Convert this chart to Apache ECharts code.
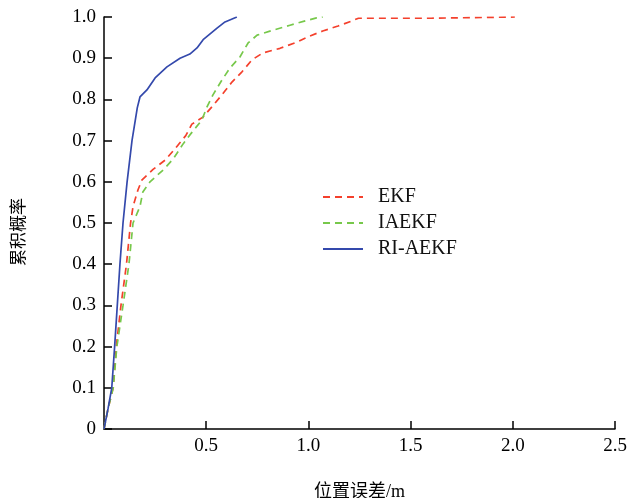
<!DOCTYPE html>
<html>
<head>
<meta charset="utf-8">
<script src="https://cdn.jsdelivr.net/npm/echarts@6/dist/echarts.min.js"></script>
<style>
    html, body {margin: 0; padding: 0; background: #fff;}
    #chart {width: 629px; height: 498px;}
</style>
</head>
<body>
<div id="chart"></div>
<script>
// 累积概率曲线数据 [位置误差, 累积概率]
const ekfData = [
    [0, 0], [0.02, 0.05], [0.045, 0.1], [0.06, 0.2], [0.083, 0.3], [0.11, 0.4], [0.13, 0.5],
    [0.142, 0.54], [0.166, 0.58], [0.185, 0.604], [0.24, 0.63], [0.30, 0.653], [0.347, 0.68],
    [0.40, 0.712], [0.43, 0.74], [0.484, 0.757], [0.528, 0.782], [0.577, 0.811], [0.626, 0.842],
    [0.675, 0.867], [0.724, 0.896], [0.778, 0.913], [0.861, 0.924], [0.944, 0.939], [1.008, 0.954],
    [1.07, 0.966], [1.145, 0.978], [1.21, 0.99], [1.245, 0.997], [1.6, 0.997], [2.01, 1.0]
];
const iaekfData = [
    [0, 0], [0.02, 0.05], [0.045, 0.1], [0.063, 0.2], [0.093, 0.3], [0.122, 0.4], [0.142, 0.5],
    [0.176, 0.54], [0.19, 0.575], [0.225, 0.6], [0.29, 0.629], [0.338, 0.655], [0.387, 0.692],
    [0.43, 0.72], [0.479, 0.75], [0.504, 0.782], [0.533, 0.811], [0.577, 0.847], [0.616, 0.876],
    [0.665, 0.903], [0.705, 0.937], [0.749, 0.956], [0.827, 0.968], [0.91, 0.98], [0.98, 0.99],
    [1.04, 0.998], [1.07, 1.0]
];
const riaekfData = [
    [0, 0], [0.02, 0.05], [0.038, 0.1], [0.052, 0.2], [0.065, 0.3], [0.078, 0.4], [0.093, 0.5],
    [0.113, 0.6], [0.137, 0.7], [0.163, 0.78], [0.176, 0.806], [0.21, 0.823], [0.25, 0.852],
    [0.308, 0.879], [0.372, 0.90], [0.42, 0.91], [0.455, 0.925], [0.485, 0.945], [0.553, 0.973],
    [0.592, 0.988], [0.65, 1.0]
];
const seriesNames = ['EKF', 'IAEKF', 'RI-AEKF'];

const serif = '"Liberation Serif", "Noto Sans CJK SC", serif';
const chart = echarts.init(document.getElementById('chart'));

const axisCommon = {
    axisLine: {lineStyle: {color: '#000', width: 1.5}},
    axisTick: {inside: true, length: 8, lineStyle: {color: '#000', width: 1.5}},
    axisLabel: {color: '#000', fontSize: 19, fontFamily: serif},
    splitLine: {show: false},
    nameTextStyle: {color: '#000', fontSize: 18, fontFamily: serif}
};

const option = {
    animation: false,
    grid: {left: 104, right: 14, top: 17, bottom: 69, outerBoundsMode: 'none', containLabel: false},
    legend: {
        orient: 'vertical',
        left: 322,
        top: 187,
        padding: 0,
        itemWidth: 40,
        itemHeight: 14,
        itemGap: 6,
        itemStyle: {opacity: 0},
        textStyle: {color: '#111', fontSize: 20, fontFamily: serif, padding: [0, 0, 0, 10]},
        data: seriesNames
    },
    xAxis: Object.assign({}, axisCommon, {
        type: 'value',
        min: 0,
        max: 2.5,
        interval: 0.5,
        name: '位置误差/m',
        nameLocation: 'middle',
        nameGap: 54,
        axisLabel: Object.assign({}, axisCommon.axisLabel, {
            showMinLabel: false,
            margin: 8,
            formatter: v => v.toFixed(1)
        })
    }),
    yAxis: Object.assign({}, axisCommon, {
        type: 'value',
        min: 0,
        max: 1,
        interval: 0.1,
        name: '累积概率',
        nameLocation: 'middle',
        nameGap: 76,
        nameTextStyle: Object.assign({}, axisCommon.nameTextStyle, {fontSize: 17, padding: [0, 18, 0, 0]}),
        axisLabel: Object.assign({}, axisCommon.axisLabel, {
            margin: 8,
            formatter: v => v === 0 ? '0' : v.toFixed(1)
        })
    }),
    series: [
        {
            name: seriesNames[0],
            type: 'line',
            data: ekfData,
            symbol: 'none',
            lineStyle: {color: '#f4402c', width: 1.7, type: [7, 5]},
            itemStyle: {color: '#f4402c'}
        },
        {
            name: seriesNames[1],
            type: 'line',
            data: iaekfData,
            symbol: 'none',
            lineStyle: {color: '#77c84b', width: 1.7, type: [7, 5]},
            itemStyle: {color: '#77c84b'}
        },
        {
            name: seriesNames[2],
            type: 'line',
            data: riaekfData,
            symbol: 'none',
            lineStyle: {color: '#3449ac', width: 1.7},
            itemStyle: {color: '#3449ac'}
        }
    ]
};
chart.setOption(option);
</script>
</body>
</html>
